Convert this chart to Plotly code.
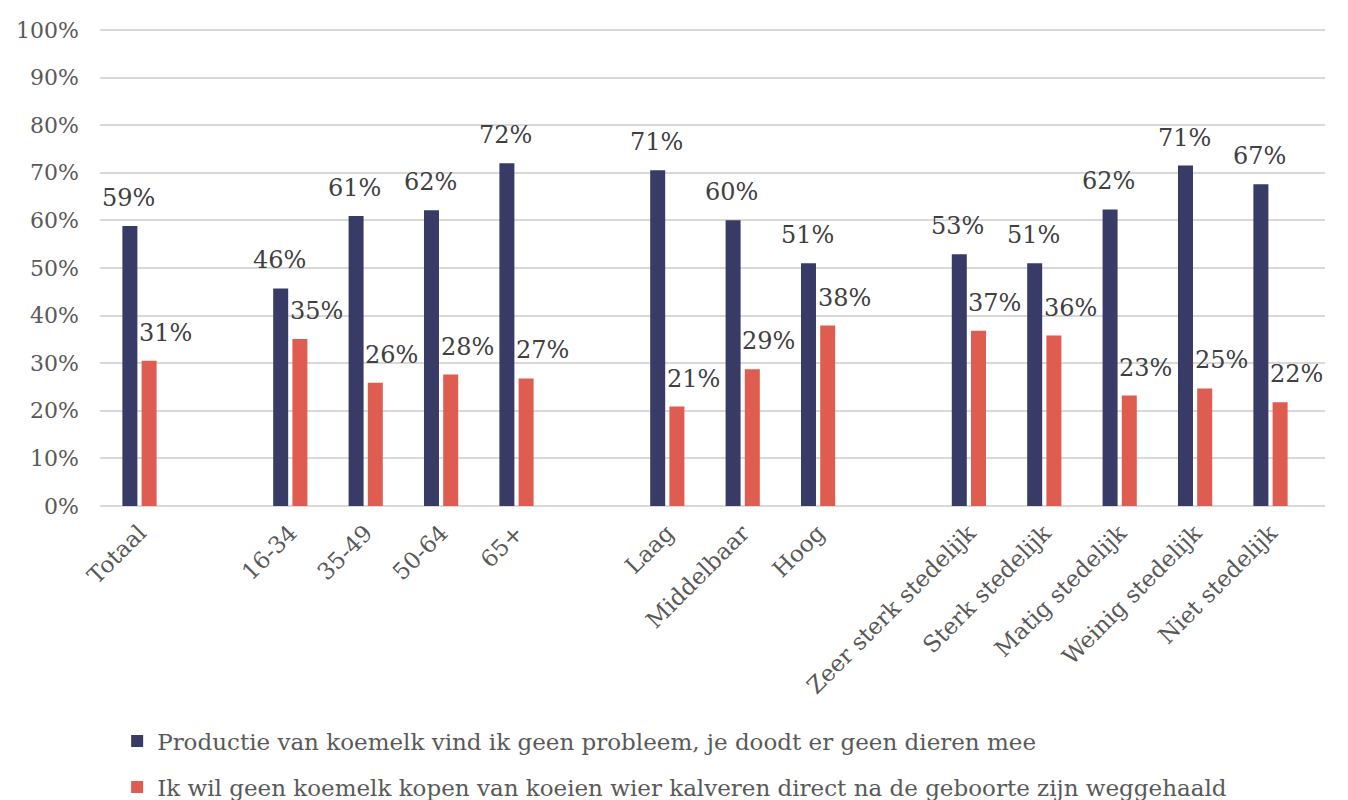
import plotly.graph_objects as go

categories = ["Totaal", " ", "16-34", "35-49", "50-64", "65+", "  ",
              "Laag", "Middelbaar", "Hoog", "   ",
              "Zeer sterk stedelijk", "Sterk stedelijk", "Matig stedelijk",
              "Weinig stedelijk", "Niet stedelijk"]
series_names = [
    "Productie van koemelk vind ik geen probleem, je doodt er geen dieren mee",
    "Ik wil geen koemelk kopen van koeien wier kalveren direct na de geboorte zijn weggehaald",
]
productie = [0.588, None, 0.457, 0.609, 0.621, 0.720, None,
             0.705, 0.600, 0.510, None,
             0.529, 0.510, 0.623, 0.715, 0.676]
kopen = [0.305, None, 0.351, 0.259, 0.276, 0.268, None,
         0.209, 0.287, 0.379, None,
         0.368, 0.358, 0.232, 0.247, 0.218]
labels_productie = ["59%", "", "46%", "61%", "62%", "72%", "",
                    "71%", "60%", "51%", "",
                    "53%", "51%", "62%", "71%", "67%"]
labels_kopen = ["31%", "", "35%", "26%", "28%", "27%", "",
                "21%", "29%", "38%", "",
                "37%", "36%", "23%", "25%", "22%"]
y_ticks = [0, 0.1, 0.2, 0.3, 0.4, 0.5, 0.6, 0.7, 0.8, 0.9, 1.0]
y_ticktext = ["0%", "10%", "20%", "30%", "40%", "50%", "60%", "70%", "80%", "90%", "100%"]

BLUE = "#383b66"
RED = "#df5c50"
FONT = "DejaVu Serif"
TXT = "#595959"

fig = go.Figure()
fig.add_trace(go.Bar(x=categories, y=productie, name=series_names[0],
                     marker=dict(color=BLUE, line=dict(width=0)), legendgroup="a"))
fig.add_trace(go.Bar(x=categories, y=kopen, name=series_names[1],
                     marker=dict(color=RED, line=dict(width=0)), legendgroup="b"))

annotations = []
for cat, v, t in zip(categories, productie, labels_productie):
    if v is None:
        continue
    annotations.append(dict(x=cat, y=v, text=t, showarrow=False, xanchor="center",
                            yanchor="bottom", xshift=-11, yshift=12,
                            font=dict(family=FONT, size=24, color="#404040")))
for cat, v, t in zip(categories, kopen, labels_kopen):
    if v is None:
        continue
    annotations.append(dict(x=cat, y=v, text=t, showarrow=False, xanchor="center",
                            yanchor="bottom", xshift=26, yshift=12,
                            font=dict(family=FONT, size=24, color="#404040")))

fig.update_layout(
    width=1340, height=792,
    margin=dict(l=92, r=23, t=20, b=294, autoexpand=False),
    plot_bgcolor="white", paper_bgcolor="white",
    barmode="group", bargap=0.49, bargroupgap=0.22,
    font=dict(family=FONT, size=22, color=TXT),
    showlegend=True,
    legend=dict(orientation="v", x=0.014, xanchor="left", y=-0.447, yanchor="top",
                xref="paper", yref="paper", tracegroupgap=13, itemwidth=30,
                font=dict(family=FONT, size=23, color=TXT)),
    annotations=annotations,
)
fig.update_xaxes(type="category", categoryorder="array", categoryarray=categories,
                 tickangle=-45, showgrid=False, showline=False, ticks="",
                 ticklabelstandoff=8,
                 tickfont=dict(family=FONT, size=23, color=TXT))
fig.update_yaxes(range=[0, 1.004], tickvals=y_ticks, ticktext=y_ticktext,
                 showgrid=True, gridcolor="#d9d9d9", gridwidth=2,
                 zeroline=True, zerolinecolor="#d9d9d9", zerolinewidth=2,
                 showline=False, ticks="", ticklabelstandoff=20,
                 tickfont=dict(family=FONT, size=22, color=TXT))

fig.write_html("out.html")
